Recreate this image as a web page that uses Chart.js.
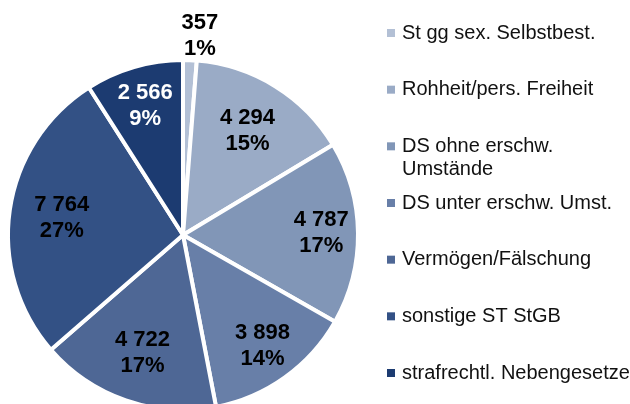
<!DOCTYPE html>
<html>
<head>
<meta charset="utf-8">
<script src="https://cdn.jsdelivr.net/npm/chart.js@4/dist/chart.umd.min.js"></script>
<style>
    html, body { margin: 0; padding: 0; background: #fff; overflow: hidden; }
    #wrap { position: relative; width: 630px; height: 414px; }
</style>
</head>
<body>
<div id="wrap"><canvas id="pieChart"></canvas></div>
<script>
/* Pie chart: offences by category */

const categories = [
    'St gg sex. Selbstbest.',
    'Rohheit/pers. Freiheit',
    ['DS ohne erschw.', 'Umstände'],
    'DS unter erschw. Umst.',
    'Vermögen/Fälschung',
    'sonstige ST StGB',
    'strafrechtl. Nebengesetze'
];
const values = [357, 4294, 4787, 3898, 4722, 7764, 2566];

const sliceColors = ['#b3c0d5', '#9aabc6', '#8196b7', '#687fa8', '#4e6795', '#335185', '#1c3b71'];

// label placement: [radius fraction, angle shift in degrees]
const labelPlace = [[1.14, 2.6], [0.70, 0], [0.79, 0], [0.78, 0], [0.71, 0], [0.70, 0], [0.77, 0]];
const labelColors = ['#000', '#000', '#000', '#000', '#000', '#000', '#fff'];

const total = values.reduce((a, b) => a + b, 0);

function fmt(n) {
    return String(n).replace(/\B(?=(\d{3})+(?!\d))/g, ' ');
}

const sliceLabels = {
    id: 'sliceLabels',
    afterDatasetsDraw(chart) {
        const ctx = chart.ctx;
        const meta = chart.getDatasetMeta(0);
        ctx.save();
        ctx.font = 'bold 22px "Liberation Sans", Arial, sans-serif';
        ctx.textAlign = 'center';
        ctx.textBaseline = 'middle';
        meta.data.forEach((arc, i) => {
            const p = arc.getProps(['x', 'y', 'startAngle', 'endAngle', 'outerRadius'], true);
            const ang = (p.startAngle + p.endAngle) / 2 + labelPlace[i][1] * Math.PI / 180;
            const r = p.outerRadius * labelPlace[i][0];
            const x = p.x + Math.cos(ang) * r;
            const y = p.y + Math.sin(ang) * r;
            const pct = Math.round(values[i] / total * 100) + '%';
            ctx.fillStyle = labelColors[i];
            ctx.fillText(fmt(values[i]), x, y - 13);
            ctx.fillText(pct, x, y + 13);
        });
        ctx.restore();
    }
};

const sideLegend = {
    id: 'sideLegend',
    afterDraw(chart) {
        const ctx = chart.ctx;
        ctx.save();
        ctx.font = '20px "Liberation Sans", Arial, sans-serif';
        ctx.textAlign = 'left';
        ctx.textBaseline = 'middle';
        const top = 33, step = (373 - 33) / 6;
        categories.forEach((cat, i) => {
            const y = top + i * step;
            ctx.fillStyle = sliceColors[i];
            ctx.fillRect(387, y - 4, 8, 8);
            ctx.fillStyle = '#111';
            const lines = Array.isArray(cat) ? cat : [cat];
            lines.forEach((ln, j) => ctx.fillText(ln, 402, y + j * 23));
        });
        ctx.restore();
    }
};

new Chart(document.getElementById('pieChart'), {
    type: 'pie',
    data: {
        labels: categories.map(c => Array.isArray(c) ? c.join(' ') : c),
        datasets: [{
            data: values,
            backgroundColor: sliceColors,
            borderColor: '#ffffff',
            borderWidth: 4,
            hoverBorderWidth: 4,
            hoverOffset: 0
        }]
    },
    options: {
        responsive: true,
        maintainAspectRatio: false,
        animation: false,
        events: [],
        layout: { padding: { left: 6, top: 58, right: 270, bottom: 2 } },
        plugins: {
            legend: { display: false },
            tooltip: { enabled: false }
        }
    },
    plugins: [sliceLabels, sideLegend]
});
</script>
</body>
</html>
